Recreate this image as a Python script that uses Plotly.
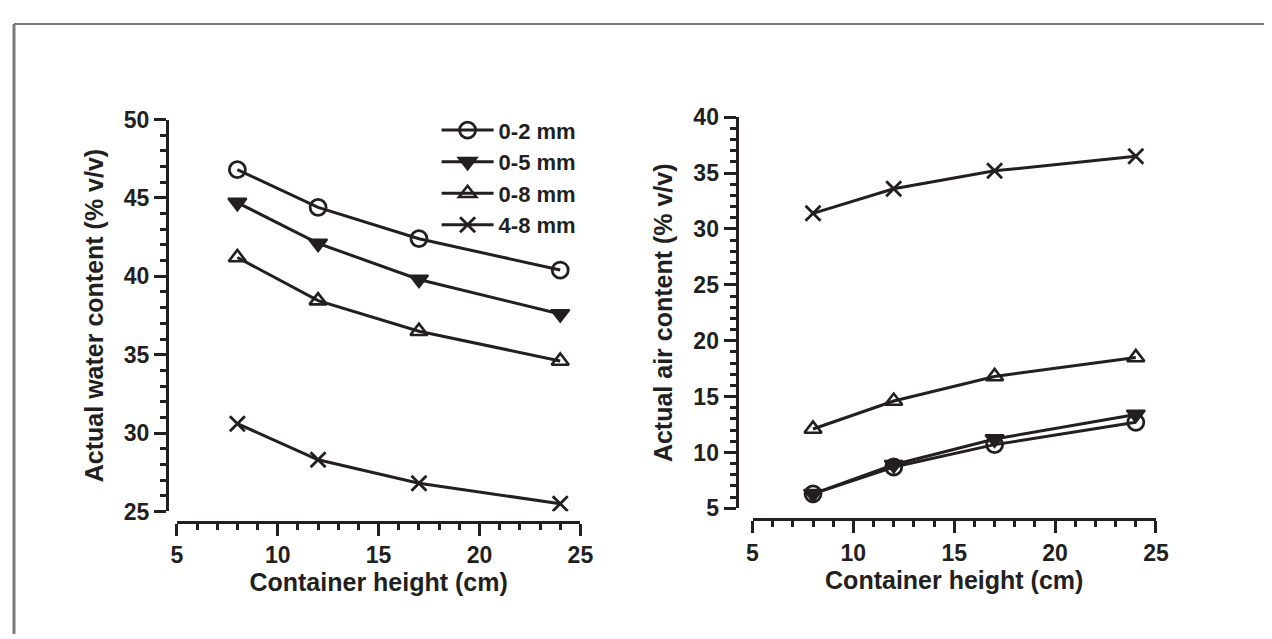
import plotly.graph_objects as go

# ---- data ----
heights = [8, 12, 17, 24]
series_names = ["0-2 mm", "0-5 mm", "0-8 mm", "4-8 mm"]
water_02 = [46.8, 44.4, 42.4, 40.4]
water_05 = [44.7, 42.1, 39.8, 37.6]
water_08 = [41.2, 38.45, 36.5, 34.6]
water_48 = [30.6, 28.3, 26.8, 25.5]
air_02 = [6.3, 8.7, 10.7, 12.7]
air_05 = [6.3, 8.9, 11.2, 13.4]
air_08 = [12.1, 14.6, 16.8, 18.5]
air_48 = [31.4, 33.6, 35.2, 36.5]
x_ticks = [5, 10, 15, 20, 25]
water_ticks = [25, 30, 35, 40, 45, 50]
air_ticks = [5, 10, 15, 20, 25, 30, 35, 40]

INK = "#231f20"
FONT = "Liberation Sans"
W, H = 1272, 639
OFF = 8  # default page margin of the html body

markers = [
    dict(symbol="circle-open", size=16, line=dict(width=2.8, color=INK), color=INK),
    dict(symbol="triangle-down", size=16, line=dict(width=2, color=INK), color=INK),
    dict(symbol="triangle-up-open", size=15, line=dict(width=2.6, color=INK), color=INK),
    dict(symbol="x-thin", size=15, line=dict(width=2.8, color=INK), color=INK),
]

fig = go.Figure()
water = [water_02, water_05, water_08, water_48]
air = [air_02, air_05, air_08, air_48]
for i, name in enumerate(series_names):
    fig.add_trace(go.Scatter(
        x=heights, y=water[i], name=name, mode="lines+markers",
        line=dict(color=INK, width=3), marker=markers[i],
        xaxis="x", yaxis="y", legendgroup=name, showlegend=True))
for i, name in enumerate(series_names):
    fig.add_trace(go.Scatter(
        x=heights, y=air[i], name=name, mode="lines+markers",
        line=dict(color=INK, width=3), marker=markers[i],
        xaxis="x2", yaxis="y2", legendgroup=name, showlegend=False))


def px_x(p):
    return (p - OFF) / W


def px_y(p):
    return 1 - (p - OFF) / H


tickfont = dict(family=FONT, size=23, color=INK, weight="bold")
titlefont = dict(family=FONT, size=25, color=INK, weight="bold")

common = dict(
    showgrid=False, zeroline=False, showline=True, linewidth=3, linecolor=INK,
    ticks="outside", ticklen=12, tickwidth=2.5, tickcolor=INK,
    tickfont=tickfont,
    minor=dict(dtick=1, ticks="outside", ticklen=6, tickwidth=2.5, tickcolor=INK),
)

fig.update_layout(
    width=W, height=H,
    margin=dict(l=0, r=0, t=0, b=0),
    paper_bgcolor="white", plot_bgcolor="white",
    font=dict(family=FONT, color=INK),
    xaxis=dict(domain=[px_x(173.3), px_x(583)], anchor="free", position=px_y(530),
               range=[5, 25], tickvals=x_ticks, dtick=5,
               title=dict(text="Container height (cm)", font=titlefont, standoff=3),
               **common),
    yaxis=dict(domain=[px_y(519.3), px_y(110.7)], anchor="free", position=px_x(163.3),
               range=[25, 50], tickvals=water_ticks, dtick=5,
               title=dict(text="Actual water content (% v/v)", font=titlefont, standoff=12),
               **common),
    xaxis2=dict(domain=[px_x(757.7), px_x(1167.3)], anchor="free", position=px_y(527.3),
                range=[5, 25], tickvals=x_ticks, dtick=5,
                title=dict(text="Container height (cm)", font=titlefont, standoff=3),
                **common),
    yaxis2=dict(domain=[px_y(516), px_y(108.3)], anchor="free", position=px_x(741.5),
                range=[5, 40], tickvals=air_ticks, dtick=5,
                title=dict(text="Actual air content (% v/v)", font=titlefont, standoff=12),
                **common),
    showlegend=True,
    legend=dict(x=px_x(437), y=px_y(100), xanchor="left", yanchor="top",
                bgcolor="rgba(0,0,0,0)", borderwidth=0,
                font=dict(family=FONT, size=22, color=INK, weight="bold"),
                tracegroupgap=0, itemwidth=52),
    shapes=[
        dict(type="line", xref="paper", yref="paper", x0=0, x1=1, y0=px_y(11), y1=px_y(11),
             line=dict(color="#7a7a7a", width=2)),
        dict(type="line", xref="paper", yref="paper", x0=0, x1=0, y0=0, y1=px_y(11),
             line=dict(color="#7a7a7a", width=3)),
    ],
)

fig.write_html("out.html")
